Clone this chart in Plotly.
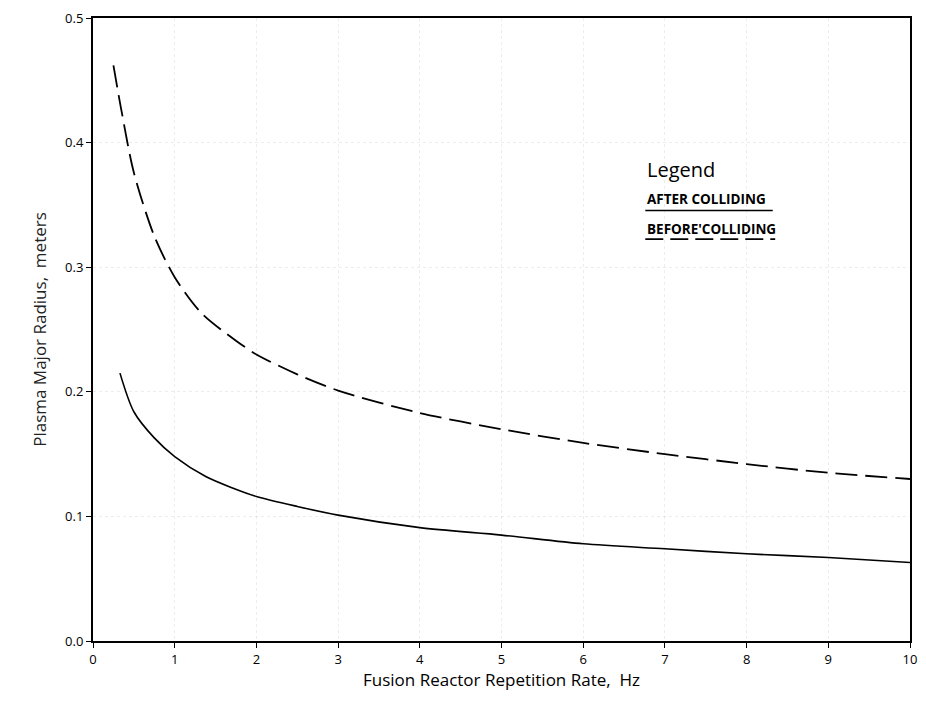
import plotly.graph_objects as go

# Repetition rate (Hz) and plasma major radius (m) for each case
rate_before = [0.25, 0.35, 0.5, 0.75, 1.0, 1.33, 1.75, 2.0, 2.5, 3.0, 4.0, 5.0, 6.0, 7.0, 8.0, 9.0, 10.0]
radius_before = [0.462, 0.425, 0.376, 0.325, 0.292, 0.263, 0.241, 0.230, 0.214, 0.201, 0.183, 0.170, 0.159, 0.150, 0.142, 0.135, 0.130]

rate_after = [0.33, 0.5, 0.75, 1.0, 1.38, 1.7, 2.0, 2.5, 3.0, 4.0, 5.0, 6.0, 7.0, 8.0, 9.0, 10.0]
radius_after = [0.215, 0.184, 0.163, 0.148, 0.132, 0.123, 0.116, 0.108, 0.101, 0.091, 0.085, 0.078, 0.074, 0.070, 0.067, 0.063]

x_ticks = [0, 1, 2, 3, 4, 5, 6, 7, 8, 9, 10]
y_ticks = [0.0, 0.1, 0.2, 0.3, 0.4, 0.5]

FONT = "Open Sans"

fig = go.Figure()
fig.add_trace(go.Scatter(
    x=rate_before, y=radius_before, mode="lines", name="BEFORE'COLLIDING",
    line=dict(color="black", width=1.8, dash="22px,8px", shape="spline", smoothing=0.8),
))
fig.add_trace(go.Scatter(
    x=rate_after, y=radius_after, mode="lines", name="AFTER COLLIDING",
    line=dict(color="black", width=1.6, shape="spline", smoothing=0.8),
))

axis_common = dict(
    showline=True, linecolor="black", linewidth=2, mirror=True,
    ticks="outside", ticklen=5, tickcolor="black", tickwidth=1,
    showgrid=True, gridcolor="rgba(0,0,0,0.07)", griddash="dot", gridwidth=1,
    zeroline=False, tickfont=dict(family=FONT, size=13, color="black"),
)

fig.update_xaxes(
    range=[0, 10], tickvals=x_ticks, ticktext=[str(v) for v in x_ticks],
    title=dict(text="Fusion Reactor Repetition Rate,  Hz",
               font=dict(family=FONT, size=17, color="black"), standoff=6),
    **axis_common,
)
fig.update_yaxes(
    range=[0, 0.5], tickvals=y_ticks, ticktext=[f"{v:.1f}" for v in y_ticks],
    title=dict(text="Plasma Major Radius,  meters",
               font=dict(family=FONT, size=17, color="#222"), standoff=14),
    **axis_common,
)

# Hand-drawn style legend block
LX = 0.676
fig.add_annotation(xref="paper", yref="paper", x=LX, y=0.757, xanchor="left", yanchor="middle",
                   text="Legend", showarrow=False, font=dict(family=FONT, size=20, color="black"))
fig.add_annotation(xref="paper", yref="paper", x=LX, y=0.709, xanchor="left", yanchor="middle",
                   text="<b>AFTER COLLIDING</b>", showarrow=False,
                   font=dict(family=FONT, size=13.5, color="black"))
fig.add_annotation(xref="paper", yref="paper", x=LX, y=0.661, xanchor="left", yanchor="middle",
                   text="<b>BEFORE'COLLIDING</b>", showarrow=False,
                   font=dict(family=FONT, size=13.5, color="black"))
fig.add_shape(type="line", xref="paper", yref="paper", x0=LX, x1=0.832, y0=0.691, y1=0.691,
              line=dict(color="black", width=1.6))
fig.add_shape(type="line", xref="paper", yref="paper", x0=LX, x1=0.835, y0=0.645, y1=0.645,
              line=dict(color="black", width=1.8, dash="18px,7px"))

fig.update_layout(
    width=926, height=703,
    margin=dict(l=93, r=9, t=15, b=62),
    paper_bgcolor="white", plot_bgcolor="white",
    showlegend=False,
    font=dict(family=FONT, color="black"),
)

fig.write_html("out.html")
